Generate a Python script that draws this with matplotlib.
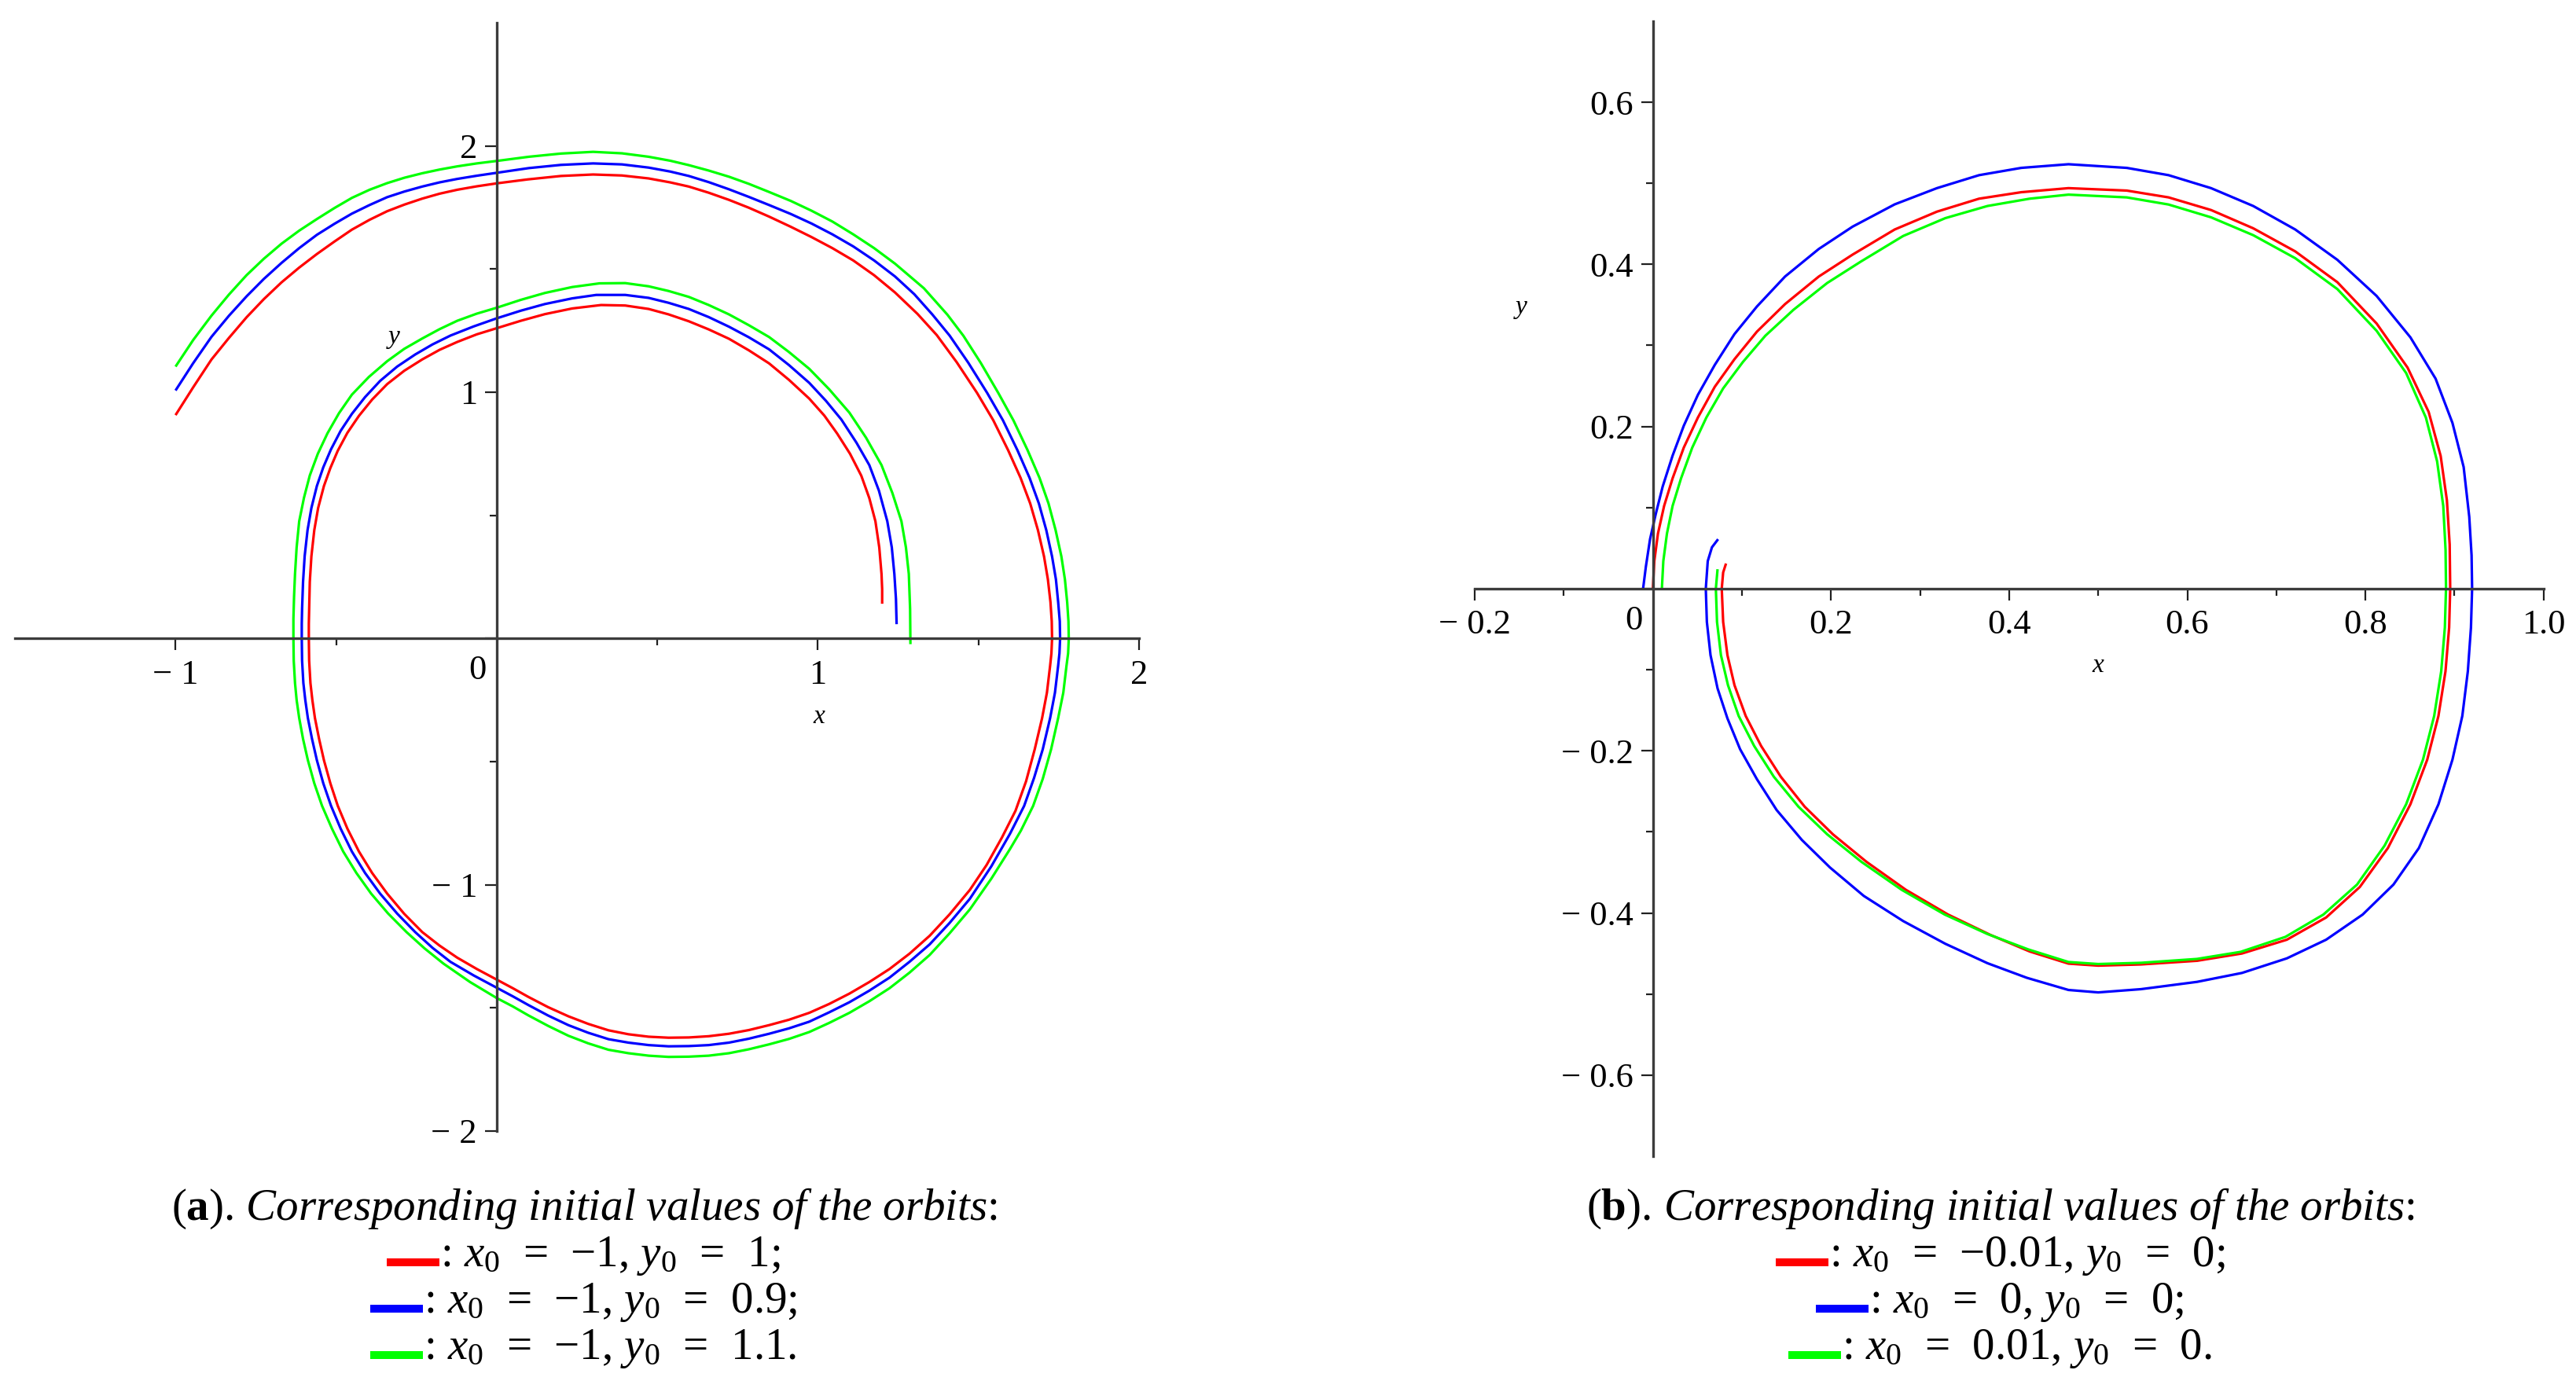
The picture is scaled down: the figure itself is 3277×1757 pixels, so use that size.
import matplotlib
matplotlib.use('Agg')
import matplotlib.pyplot as plt
from matplotlib.lines import Line2D

plt.rcParams['font.family'] = ['Liberation Serif', 'DejaVu Serif']
plt.rcParams['mathtext.fontset'] = 'custom'
plt.rcParams['mathtext.rm'] = 'Liberation Serif'
plt.rcParams['mathtext.it'] = 'Liberation Serif:italic'
plt.rcParams['mathtext.bf'] = 'Liberation Serif:bold'

# ---------------- panel (a) orbits ----------------
a_red_x = [-1.000, -0.945, -0.888, -0.834, -0.779, -0.725, -0.670, -0.615, -0.560, -0.505, -0.451, -0.396,
           -0.341, -0.287, -0.232, -0.178, -0.123, -0.062, 0.000, 0.096, 0.200, 0.300, 0.390, 0.473, 0.540,
           0.598, 0.660, 0.723, 0.785, 0.848, 0.915, 0.980, 1.045, 1.110, 1.175, 1.240, 1.310, 1.370, 1.432,
           1.495, 1.546, 1.592, 1.631, 1.661, 1.685, 1.704, 1.716, 1.724, 1.728, 1.729,
           1.727, 1.723, 1.713, 1.698, 1.675, 1.648, 1.615, 1.573, 1.525, 1.473, 1.410, 1.348, 1.285, 1.223,
           1.160, 1.098, 1.035, 0.973, 0.910, 0.848, 0.785, 0.723, 0.660, 0.598, 0.535, 0.473, 0.410, 0.348,
           0.285, 0.223, 0.160, 0.098, 0.050, 0.000,
           -0.062, -0.123, -0.178, -0.232, -0.288, -0.341, -0.388, -0.429, -0.465, -0.495, -0.518, -0.538,
           -0.553, -0.566, -0.574, -0.580, -0.584, -0.585,
           -0.585, -0.584, -0.582, -0.577, -0.568, -0.556, -0.538, -0.518, -0.495, -0.465, -0.429, -0.388,
           -0.341, -0.288, -0.232, -0.178, -0.123, -0.062, 0.000,
           0.075, 0.150, 0.235, 0.325, 0.400, 0.473, 0.535, 0.598, 0.660, 0.723, 0.785, 0.848, 0.910, 0.973,
           1.020, 1.060, 1.100, 1.135, 1.160, 1.179, 1.191, 1.198, 1.200, 1.200]
a_red_y = [0.907, 1.020, 1.133, 1.220, 1.304, 1.378, 1.446, 1.506, 1.561, 1.612, 1.660, 1.700,
           1.735, 1.762, 1.786, 1.806, 1.822, 1.836, 1.848, 1.864, 1.878, 1.884, 1.880, 1.868, 1.852,
           1.835, 1.810, 1.781, 1.749, 1.713, 1.672, 1.630, 1.585, 1.535, 1.475, 1.405, 1.318, 1.232, 1.122,
           0.998, 0.886, 0.765, 0.652, 0.548, 0.440, 0.333, 0.240, 0.148, 0.070, 0.000,
           -0.060, -0.110, -0.220, -0.323, -0.450, -0.580, -0.700, -0.808, -0.920, -1.021, -1.120, -1.207, -1.280, -1.342,
           -1.395, -1.442, -1.484, -1.520, -1.548, -1.570, -1.590, -1.605, -1.615, -1.620, -1.621, -1.617, -1.607, -1.591,
           -1.565, -1.534, -1.497, -1.455, -1.420, -1.385,
           -1.342, -1.296, -1.247, -1.192, -1.118, -1.036, -0.952, -0.865, -0.772, -0.679, -0.588, -0.494,
           -0.408, -0.323, -0.250, -0.181, -0.090, 0.000,
           0.060, 0.120, 0.230, 0.334, 0.440, 0.530, 0.619, 0.692, 0.762, 0.835, 0.904, 0.970,
           1.033, 1.087, 1.133, 1.172, 1.204, 1.235, 1.260,
           1.290, 1.317, 1.340, 1.354, 1.352, 1.338, 1.316, 1.288, 1.255, 1.217, 1.170, 1.117, 1.050, 0.974,
           0.905, 0.832, 0.750, 0.661, 0.570, 0.476, 0.370, 0.262, 0.200, 0.141]

a_blue_x = [-1.000, -0.945, -0.888, -0.834, -0.779, -0.725, -0.670, -0.615, -0.560, -0.505, -0.451, -0.396,
            -0.341, -0.287, -0.232, -0.178, -0.123, -0.062, 0.000, 0.100, 0.200, 0.300, 0.390, 0.473, 0.540,
            0.598, 0.660, 0.723, 0.785, 0.848, 0.915, 0.980, 1.045, 1.110, 1.175, 1.240, 1.300, 1.356, 1.410,
            1.468, 1.527, 1.576, 1.621, 1.659, 1.688, 1.711, 1.729, 1.741, 1.748, 1.753, 1.754,
            1.752, 1.748, 1.738, 1.723, 1.700, 1.673, 1.642, 1.598, 1.540, 1.473, 1.410, 1.348, 1.285, 1.223,
            1.160, 1.098, 1.035, 0.973, 0.910, 0.848, 0.785, 0.723, 0.660, 0.598, 0.535, 0.473, 0.410, 0.348,
            0.285, 0.223, 0.160, 0.098, 0.050, 0.000,
            -0.072, -0.144, -0.200, -0.254, -0.310, -0.363, -0.410, -0.451, -0.486, -0.516, -0.540, -0.560,
            -0.575, -0.588, -0.596, -0.602, -0.606, -0.607,
            -0.607, -0.606, -0.603, -0.598, -0.589, -0.577, -0.560, -0.540, -0.516, -0.486, -0.451, -0.410,
            -0.363, -0.310, -0.254, -0.200, -0.144, -0.072, 0.000,
            0.075, 0.150, 0.235, 0.310, 0.400, 0.473, 0.535, 0.598, 0.660, 0.723, 0.785, 0.848, 0.910, 0.973,
            1.025, 1.073, 1.120, 1.160, 1.190, 1.216, 1.230, 1.238, 1.243, 1.245]
a_blue_y = [1.007, 1.118, 1.225, 1.310, 1.389, 1.460, 1.525, 1.585, 1.639, 1.684, 1.725, 1.760,
            1.792, 1.815, 1.835, 1.852, 1.866, 1.879, 1.891, 1.910, 1.923, 1.929, 1.925, 1.912, 1.896,
            1.878, 1.853, 1.824, 1.793, 1.760, 1.724, 1.685, 1.641, 1.592, 1.535, 1.470, 1.398, 1.316, 1.230,
            1.120, 0.997, 0.886, 0.765, 0.652, 0.548, 0.440, 0.333, 0.240, 0.148, 0.070, 0.000,
            -0.060, -0.110, -0.220, -0.323, -0.450, -0.566, -0.680, -0.793, -0.925, -1.057, -1.155, -1.242, -1.313, -1.377,
            -1.430, -1.477, -1.518, -1.556, -1.583, -1.605, -1.625, -1.641, -1.651, -1.655, -1.656, -1.651, -1.641, -1.627,
            -1.601, -1.570, -1.531, -1.488, -1.453, -1.418,
            -1.368, -1.313, -1.256, -1.192, -1.117, -1.036, -0.952, -0.865, -0.772, -0.679, -0.588, -0.494,
            -0.408, -0.323, -0.250, -0.181, -0.090, 0.000,
            0.060, 0.120, 0.230, 0.334, 0.440, 0.530, 0.619, 0.695, 0.768, 0.843, 0.912, 0.980,
            1.046, 1.104, 1.153, 1.194, 1.230, 1.267, 1.300,
            1.331, 1.358, 1.381, 1.395, 1.395, 1.383, 1.363, 1.338, 1.305, 1.266, 1.223, 1.174, 1.110, 1.038,
            0.965, 0.889, 0.795, 0.704, 0.600, 0.476, 0.370, 0.262, 0.160, 0.058]

a_green_x = [-1.000, -0.945, -0.888, -0.834, -0.779, -0.725, -0.670, -0.615, -0.560, -0.505, -0.451, -0.396,
             -0.341, -0.287, -0.232, -0.178, -0.123, -0.062, 0.000, 0.100, 0.200, 0.300, 0.390, 0.473, 0.540,
             0.598, 0.660, 0.723, 0.785, 0.848, 0.915, 0.980, 1.045, 1.110, 1.175, 1.240, 1.330, 1.403, 1.453,
             1.507, 1.562, 1.609, 1.653, 1.690, 1.718, 1.740, 1.758, 1.769, 1.776, 1.780, 1.781,
             1.779, 1.774, 1.764, 1.748, 1.726, 1.700, 1.670, 1.632, 1.598, 1.540, 1.473, 1.410, 1.348, 1.285,
             1.223, 1.160, 1.098, 1.035, 0.973, 0.910, 0.848, 0.785, 0.723, 0.660, 0.598, 0.535, 0.473, 0.410,
             0.348, 0.285, 0.223, 0.160, 0.098, 0.050, 0.000,
             -0.083, -0.166, -0.225, -0.281, -0.338, -0.391, -0.437, -0.478, -0.513, -0.544, -0.568, -0.588,
             -0.603, -0.615, -0.623, -0.628, -0.632, -0.633,
             -0.633, -0.631, -0.628, -0.623, -0.615, -0.600, -0.582, -0.557, -0.527, -0.491, -0.451, -0.398,
             -0.341, -0.288, -0.232, -0.178, -0.123, -0.062, 0.000,
             0.075, 0.150, 0.235, 0.320, 0.400, 0.473, 0.535, 0.598, 0.660, 0.723, 0.785, 0.848, 0.910, 0.973,
             1.035, 1.098, 1.150, 1.198, 1.232, 1.260, 1.274, 1.283, 1.287, 1.288]
a_green_y = [1.104, 1.212, 1.311, 1.396, 1.475, 1.542, 1.603, 1.656, 1.703, 1.748, 1.789, 1.822,
             1.849, 1.871, 1.889, 1.904, 1.917, 1.929, 1.939, 1.956, 1.969, 1.976, 1.970, 1.956, 1.940,
             1.922, 1.900, 1.875, 1.846, 1.813, 1.777, 1.737, 1.693, 1.641, 1.585, 1.522, 1.422, 1.315, 1.229,
             1.119, 0.996, 0.885, 0.764, 0.652, 0.548, 0.440, 0.333, 0.240, 0.148, 0.070, 0.000,
             -0.060, -0.110, -0.220, -0.323, -0.450, -0.570, -0.680, -0.780, -0.855, -0.975, -1.100, -1.197, -1.285, -1.357,
             -1.420, -1.473, -1.520, -1.561, -1.598, -1.626, -1.648, -1.668, -1.684, -1.694, -1.698, -1.699, -1.694, -1.684,
             -1.670, -1.644, -1.613, -1.573, -1.530, -1.494, -1.460,
             -1.395, -1.320, -1.258, -1.192, -1.117, -1.036, -0.952, -0.865, -0.772, -0.679, -0.588, -0.494,
             -0.408, -0.323, -0.250, -0.181, -0.090, 0.000,
             0.080, 0.170, 0.262, 0.370, 0.476, 0.572, 0.662, 0.750, 0.833, 0.915, 0.990, 1.062,
             1.126, 1.176, 1.218, 1.256, 1.290, 1.319, 1.343,
             1.375, 1.403, 1.427, 1.442, 1.443, 1.430, 1.411, 1.387, 1.354, 1.316, 1.272, 1.224, 1.163, 1.095,
             1.012, 0.917, 0.815, 0.704, 0.590, 0.476, 0.370, 0.262, 0.120, -0.023]

# ---------------- panel (b) orbits ----------------
b_red_x = [0.0000, 0.0016, 0.0057, 0.0126, 0.0221, 0.0347, 0.0505, 0.0695, 0.0916, 0.1168, 0.1484, 0.1863,
           0.2242, 0.2715, 0.3189, 0.3662, 0.4136, 0.4666, 0.5320, 0.5790, 0.6267, 0.6740, 0.7212, 0.7685,
           0.8126, 0.8473, 0.8710, 0.8845, 0.8915, 0.8946, 0.8952, 0.8940, 0.8899, 0.8820, 0.8694, 0.8505,
           0.8252, 0.7937, 0.7559, 0.7118, 0.6614, 0.6110, 0.5480, 0.5000, 0.4666, 0.4230, 0.3788, 0.3315,
           0.2841, 0.2399, 0.2021, 0.1705, 0.1436, 0.1215, 0.1042, 0.0916, 0.0837, 0.0789, 0.0773, 0.0789, 0.0821]
b_red_y = [0.000, 0.034, 0.068, 0.102, 0.136, 0.174, 0.211, 0.249, 0.283, 0.317, 0.351, 0.385,
           0.412, 0.443, 0.465, 0.481, 0.489, 0.494, 0.491, 0.4826, 0.467, 0.4445, 0.416, 0.378,
           0.327, 0.2727, 0.218, 0.1636, 0.109, 0.0545, 0.000, -0.048, -0.102, -0.157, -0.211, -0.266,
           -0.320, -0.368, -0.4056, -0.433, -0.450, -0.459, -0.4635, -0.465, -0.4625, -0.4475, -0.427, -0.402,
           -0.3715, -0.337, -0.303, -0.269, -0.232, -0.194, -0.157, -0.119, -0.082, -0.041, 0.000, 0.020, 0.031]

b_blue_x = [-0.0110, -0.0079, -0.0032, 0.0032, 0.0110, 0.0221, 0.0347, 0.0505, 0.0695, 0.0916, 0.1168, 0.1484,
            0.1863, 0.2242, 0.2715, 0.3189, 0.3662, 0.4136, 0.4666, 0.5320, 0.5790, 0.6267, 0.6740, 0.7212,
            0.7685, 0.8126, 0.8505, 0.8788, 0.8977, 0.9103, 0.9166, 0.9192, 0.9198, 0.9185, 0.9150, 0.9088,
            0.8977, 0.8820, 0.8600, 0.8315, 0.7969, 0.7559, 0.7118, 0.6614, 0.6110, 0.5480, 0.5000, 0.4666,
            0.4199, 0.3757, 0.3283, 0.2810, 0.2368, 0.1989, 0.1673, 0.1389, 0.1168, 0.0979, 0.0837, 0.0726,
            0.0647, 0.0606, 0.0594, 0.0616, 0.0663, 0.0732]
b_blue_y = [0.000, 0.027, 0.061, 0.092, 0.126, 0.164, 0.201, 0.239, 0.276, 0.314, 0.348, 0.385,
            0.419, 0.4465, 0.474, 0.494, 0.510, 0.519, 0.5235, 0.519, 0.510, 0.494, 0.472, 0.443,
            0.4056, 0.361, 0.310, 0.259, 0.2045, 0.150, 0.0886, 0.041, 0.000, -0.048, -0.102, -0.157,
            -0.211, -0.266, -0.320, -0.365, -0.402, -0.433, -0.456, -0.474, -0.485, -0.494, -0.498, -0.495,
            -0.480, -0.462, -0.438, -0.410, -0.379, -0.344, -0.310, -0.273, -0.235, -0.198, -0.160, -0.123,
            -0.082, -0.041, 0.000, 0.034, 0.051, 0.061]

b_green_x = [0.0101, 0.0117, 0.0158, 0.0221, 0.0316, 0.0442, 0.0600, 0.0789, 0.1010, 0.1263, 0.1579, 0.1957,
             0.2336, 0.2810, 0.3283, 0.3757, 0.4230, 0.4666, 0.5320, 0.5790, 0.6267, 0.6740, 0.7212, 0.7685,
             0.8126, 0.8457, 0.8679, 0.8805, 0.8874, 0.8900, 0.8905, 0.8892, 0.8851, 0.8772, 0.8646, 0.8457,
             0.8215, 0.7906, 0.7528, 0.7102, 0.6598, 0.6110, 0.5480, 0.5000, 0.4666, 0.4215, 0.3757, 0.3277,
             0.2794, 0.2342, 0.1957, 0.1635, 0.1358, 0.1137, 0.0963, 0.0843, 0.0764, 0.0720, 0.0707, 0.0726]
b_green_y = [0.000, 0.034, 0.068, 0.102, 0.136, 0.174, 0.211, 0.247, 0.2795, 0.312, 0.344, 0.377,
             0.4035, 0.435, 0.457, 0.472, 0.481, 0.486, 0.4826, 0.4738, 0.458, 0.436, 0.4076, 0.3695,
             0.318, 0.266, 0.211, 0.157, 0.102, 0.0477, 0.000, -0.048, -0.102, -0.157, -0.211, -0.266,
             -0.317, -0.365, -0.402, -0.4295, -0.448, -0.4567, -0.4615, -0.463, -0.4605, -0.445, -0.426, -0.402,
             -0.3715, -0.337, -0.303, -0.269, -0.232, -0.194, -0.157, -0.119, -0.082, -0.041, 0.000, 0.024]

# ---------------- ticks ----------------
a_xticks = [-1, 1, 2]
a_xticklabels = ['\u2212 1', '1', '2']
a_xminor = [-0.5, 0.5, 1.5]
a_yticks = [-2, -1, 0, 1, 2]
a_yticklabels = ['\u2212 2', '\u2212 1', '', '1', '2']
a_yminor = [-1.5, -0.5, 0.5, 1.5]

b_xticks = [-0.2, 0.2, 0.4, 0.6, 0.8, 1.0]
b_xticklabels = ['\u2212 0.2', '0.2', '0.4', '0.6', '0.8', '1.0']
b_xminor = [-0.1, 0.1, 0.3, 0.5, 0.7, 0.9]
b_yticks = [-0.6, -0.4, -0.2, 0, 0.2, 0.4, 0.6]
b_yticklabels = ['\u2212 0.6', '\u2212 0.4', '\u2212 0.2', '', '0.2', '0.4', '0.6']
b_yminor = [-0.5, -0.3, -0.1, 0.1, 0.3, 0.5]

# ---------------- captions ----------------
SP = '\u2002'
cap_a_title = r'($\mathbf{a}$). $\mathit{Corresponding\ initial\ values\ of\ the\ orbits}$:'
cap_a_lines = [f': $x_0${SP}={SP}\u22121, $y_0${SP}={SP}1;',
               f': $x_0${SP}={SP}\u22121, $y_0${SP}={SP}0.9;',
               f': $x_0${SP}={SP}\u22121, $y_0${SP}={SP}1.1.']
cap_b_title = r'($\mathbf{b}$). $\mathit{Corresponding\ initial\ values\ of\ the\ orbits}$:'
cap_b_lines = [f': $x_0${SP}={SP}\u22120.01, $y_0${SP}={SP}0;',
               f': $x_0${SP}={SP}0, $y_0${SP}={SP}0;',
               f': $x_0${SP}={SP}0.01, $y_0${SP}={SP}0.']
colors = ['#ff0000', '#0000ff', '#00ff00']

AXC = '#3c3c3c'
W, H = 3277, 1757
fig = plt.figure(figsize=(W / 100, H / 100), dpi=100)
axL = fig.add_axes([0.0058, 0.1810, 0.4364, 0.8025])
axR = fig.add_axes([0.5725, 0.1628, 0.4149, 0.8219])


def style(ax, xlim, ylim, xt, xl, xm, yt, yl, ym):
    ax.set_xlim(xlim)
    ax.set_ylim(ylim)
    ax.patch.set_visible(False)
    for s in ['top', 'right']:
        ax.spines[s].set_visible(False)
    for s in ['left', 'bottom']:
        ax.spines[s].set_position(('data', 0))
        ax.spines[s].set_color(AXC)
        ax.spines[s].set_linewidth(2.4)
    ax.set_xticks(xt, xl)
    ax.set_xticks(xm, minor=True)
    ax.set_yticks(yt, yl)
    ax.set_yticks(ym, minor=True)
    ax.tick_params(which='major', direction='out', length=11, width=1.6, color='#202020', labelsize=32)
    ax.tick_params(which='minor', direction='out', length=6.5, width=1.6, color='#202020')
    ax.tick_params(axis='x', which='major', pad=8)
    ax.tick_params(axis='y', which='major', pad=7)
    ax.annotate('0', xy=(0, 0), xytext=(-24, -41), textcoords='offset pixels',
                ha='center', va='center', fontsize=32)


style(axL, (-1.5, 2.0), (-2.0, 2.5), a_xticks, a_xticklabels, a_xminor,
      a_yticks, a_yticklabels, a_yminor)
style(axR, (-0.2, 1.0), (-0.7, 0.7), b_xticks, b_xticklabels, b_xminor,
      b_yticks, b_yticklabels, b_yminor)

for xs, ys, c in [(a_red_x, a_red_y, colors[0]), (a_blue_x, a_blue_y, colors[1]),
                  (a_green_x, a_green_y, colors[2])]:
    axL.plot(xs, ys, color=c, lw=2.3, solid_capstyle='butt', solid_joinstyle='round')
for xs, ys, c in [(b_red_x, b_red_y, colors[0]), (b_blue_x, b_blue_y, colors[1]),
                  (b_green_x, b_green_y, colors[2])]:
    axR.plot(xs, ys, color=c, lw=2.3, solid_capstyle='butt', solid_joinstyle='round')

axL.text(-0.32, 1.225, 'y', style='italic', fontsize=24, ha='center', va='center')
axL.text(1.004, -0.316, 'x', style='italic', fontsize=24, ha='center', va='center')
axR.text(-0.148, 0.347, 'y', style='italic', fontsize=24, ha='center', va='center')
axR.text(0.5, -0.095, 'x', style='italic', fontsize=24, ha='center', va='center')

# captions
CAP_FS = 41
title_base = 1 - 1552 / H
line_bases = [1 - 1611 / H, 1 - 1670 / H, 1 - 1729 / H]
BAR_W = 67
BAR_T = 10

fig.canvas.draw()
renderer = fig.canvas.get_renderer()


def caption(cx, title, lines):
    fig.text(cx, title_base, title, ha='center', va='baseline', fontsize=CAP_FS)
    for s, yb, c in zip(lines, line_bases, colors):
        t = fig.text(cx + (BAR_W / 2) / W, yb, s, ha='center', va='baseline', fontsize=CAP_FS)
        bb = t.get_window_extent(renderer)
        x0 = bb.x0 - 1
        yb_px = yb * H
        fig.add_artist(Line2D([(x0 - BAR_W) / W, x0 / W],
                              [(yb_px + BAR_T / 2) / H] * 2,
                              color=c, lw=BAR_T * 0.72, solid_capstyle='butt',
                              transform=fig.transFigure))


caption(743 / W, cap_a_title, cap_a_lines)
caption(2545 / W, cap_b_title, cap_b_lines)

fig.savefig('out.png', dpi=100)
